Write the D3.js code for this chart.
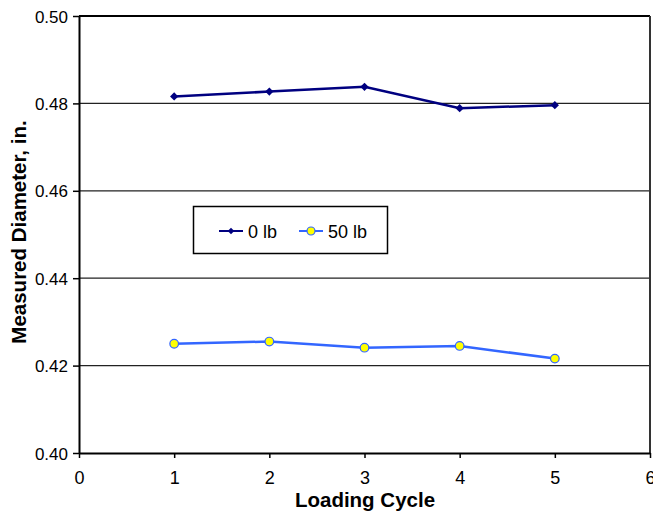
<!DOCTYPE html>
<html><head><meta charset="utf-8">
<script src="https://cdn.jsdelivr.net/npm/d3@7"></script>
<style>body{margin:0;background:#fff}svg{display:block}</style>
</head><body>
<svg id="c" width="653" height="514"></svg>
<script>
const cycles = [1, 2, 3, 4, 5];
const series0lb = [0.4816, 0.4827, 0.4838, 0.4789, 0.4796];
const series50lb = [0.4250, 0.4255, 0.4241, 0.4245, 0.4216];
const xTicks = [0, 1, 2, 3, 4, 5, 6];
const yTicks = [0.40, 0.42, 0.44, 0.46, 0.48, 0.50];
const seriesNames = ["0 lb", "50 lb"];

const svg = d3.select("#c");
const L = 79, R = 650, T = 16, B = 453;
const x = d3.scaleLinear().domain([0, 6]).range([L, R]);
const y = d3.scaleLinear().domain([0.40, 0.50]).range([B, T]);
const font = "Liberation Sans, Arial, sans-serif";

// gridlines
svg.append("g").selectAll("line").data(yTicks.slice(1, -1)).join("line")
  .attr("x1", L).attr("x2", R).attr("y1", d => y(d)).attr("y2", d => y(d))
  .attr("stroke", "#222").attr("stroke-width", 1.2);

// frame top & right
svg.append("line").attr("x1", L).attr("x2", R).attr("y1", T).attr("y2", T).attr("stroke", "#000").attr("stroke-width", 2);
svg.append("line").attr("x1", R).attr("x2", R).attr("y1", T).attr("y2", B).attr("stroke", "#333").attr("stroke-width", 2);

// axes
const xAxis = svg.append("g").attr("transform", `translate(0,${B})`)
  .call(d3.axisBottom(x).tickValues(xTicks).tickFormat(d3.format("d")).tickSize(5).tickSizeOuter(0));
const yAxis = svg.append("g").attr("transform", `translate(${L},0)`)
  .call(d3.axisLeft(y).tickValues(yTicks).tickFormat(d3.format(".2f")).tickSize(6).tickSizeOuter(0));
[xAxis, yAxis].forEach(g => {
  g.select(".domain").attr("stroke", "#000").attr("stroke-width", 2);
  g.selectAll(".tick line").attr("stroke", "#000").attr("stroke-width", 1.5);
  g.selectAll("text").attr("font-family", font).attr("font-size", 18).attr("fill", "#000");
});
xAxis.selectAll("text").attr("dy", "0.71em").attr("y", 18.5);
yAxis.selectAll("text").attr("x", -11).attr("dy", "0.36em").attr("font-size", 17);

// axis titles
svg.append("text").attr("x", 365).attr("y", 506.5).attr("text-anchor", "middle")
  .attr("font-family", font).attr("font-weight", "bold").attr("font-size", 20.5).text("Loading Cycle");
svg.append("text").attr("transform", `translate(26,232) rotate(-90)`).attr("text-anchor", "middle")
  .attr("font-family", font).attr("font-weight", "bold").attr("font-size", 20.5).text("Measured Diameter, in.");

const line = d3.line().x((d, i) => x(cycles[i])).y(d => y(d));
const c0 = "#000080", c1 = "#3366FF";
const diamond = d3.symbol(d3.symbolSquare, 34)();

svg.append("path").datum(series0lb).attr("d", line).attr("fill", "none").attr("stroke", c0).attr("stroke-width", 2.5);
svg.append("g").selectAll("path").data(series0lb).join("path")
  .attr("d", diamond)
  .attr("transform", (d, i) => `translate(${x(cycles[i])},${y(d)}) rotate(45)`).attr("fill", c0);

svg.append("path").datum(series50lb).attr("d", line).attr("fill", "none").attr("stroke", c1).attr("stroke-width", 2.5);
svg.append("g").selectAll("circle").data(series50lb).join("circle")
  .attr("cx", (d, i) => x(cycles[i])).attr("cy", d => y(d)).attr("r", 4.3)
  .attr("fill", "#FFFF00").attr("stroke", c1).attr("stroke-width", 1.2);

// legend
const lg = svg.append("g");
lg.append("rect").attr("x", 193.5).attr("y", 206.5).attr("width", 194).attr("height", 47)
  .attr("fill", "#fff").attr("stroke", "#000").attr("stroke-width", 1.5);
lg.append("line").attr("x1", 219).attr("x2", 243).attr("y1", 231).attr("y2", 231).attr("stroke", c0).attr("stroke-width", 2);
lg.append("path").attr("d", d3.symbol(d3.symbolSquare, 22)()).attr("transform", "translate(231,231) rotate(45)").attr("fill", c0);
lg.append("text").attr("x", 248).attr("y", 237.5).attr("font-family", font).attr("font-size", 18).text(seriesNames[0]);
lg.append("line").attr("x1", 299).attr("x2", 323).attr("y1", 231).attr("y2", 231).attr("stroke", c1).attr("stroke-width", 2);
lg.append("circle").attr("cx", 311).attr("cy", 231).attr("r", 4).attr("fill", "#FFFF00").attr("stroke", c1).attr("stroke-width", 1.2);
lg.append("text").attr("x", 328).attr("y", 237.5).attr("font-family", font).attr("font-size", 18).text(seriesNames[1]);
</script>
</body></html>
